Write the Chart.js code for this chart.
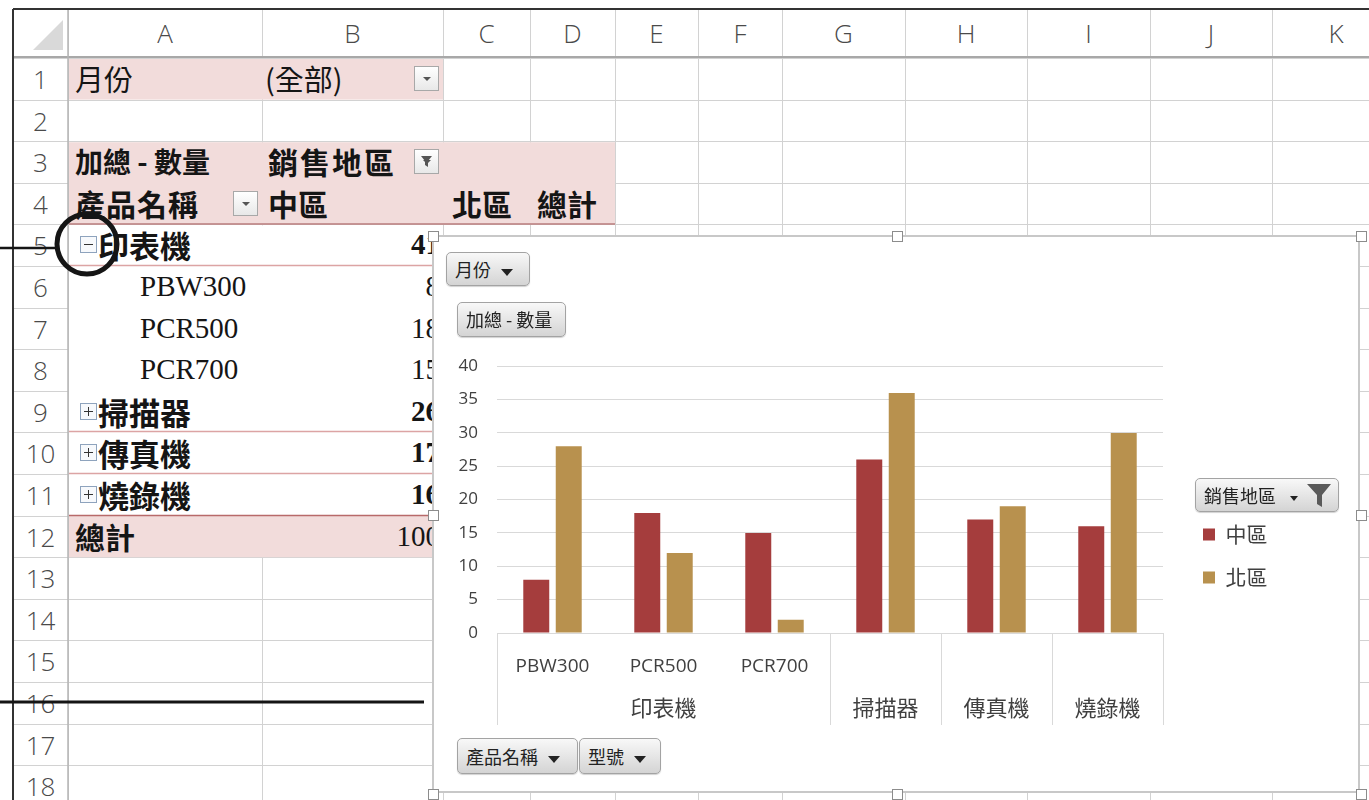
<!DOCTYPE html>
<html lang="zh-Hant">
<head>
<meta charset="utf-8">
<title>樞紐分析圖</title>
<script src="https://cdn.jsdelivr.net/npm/chart.js@4.4.1/dist/chart.umd.min.js"></script>
<style>
  html, body { margin: 0; padding: 0; background: #fff; }
  #sheet { position: relative; width: 1369px; height: 800px; overflow: hidden; font-family: "Noto Sans CJK TC", sans-serif; }
  svg { position: absolute; left: 0; top: 0; }
  .txt { position: absolute; white-space: nowrap; color: #151515; height: 41px; line-height: 41px; }
  .num { text-align: right; }
  .hd { position: absolute; color: #4a4a4a; font-family: "Open Sans", sans-serif; font-weight: 300; font-size: 26px; text-align: center; line-height: 30px; }
  .dd { position: absolute; width: 25px; height: 25px; border: 1px solid #a8a8a8; background: linear-gradient(#fff, #e8e8e8); box-sizing: border-box; }
  .dd::after { content: ""; position: absolute; left: 8px; top: 10px; border-left: 4px solid transparent; border-right: 4px solid transparent; border-top: 4px solid #555; }
  .tg { position: absolute; width: 17px; height: 17px; border: 1px solid #8ea3bd; box-sizing: border-box; background: #f7f9fc; }
  .tg i { position: absolute; left: 3px; top: 7px; width: 9px; height: 1px; background: #333; }
  .tg b { position: absolute; left: 7px; top: 3px; width: 1px; height: 9px; background: #333; }
  .btn { position: absolute; box-sizing: border-box; border: 1px solid #a3a3a3; border-radius: 5px; background: linear-gradient(#f8f8f8, #d4d4d4); font-size: 18px; color: #222; line-height: 32px; padding-left: 8px; white-space: nowrap; box-shadow: 0 1px 1px rgba(0,0,0,.18); }
  .arr { display: inline-block; margin-left: 10px; border-left: 6px solid transparent; border-right: 6px solid transparent; border-top: 7px solid #222; vertical-align: middle; }
  #chartBox { position: absolute; left: 432px; top: 235px; width: 928px; height: 558px; background: #fff; border: 2px solid #c8c8c8; box-sizing: border-box; }
  .hnd { position: absolute; width: 11px; height: 11px; background: #fff; border: 1px solid #8c8c8c; box-sizing: border-box; }
  #plot { position: absolute; left: 440px; top: 337px; width: 915px; height: 400px; }
</style>
</head>
<body>
<div id="sheet">
  <svg id="bg" width="1369" height="800"></svg>
  <div id="cells"></div>
  <div id="chartBox"></div>
  <div id="plot"><canvas id="pivotChart"></canvas></div>
  <div class="btn" style="left:446px;top:252px;width:84px;height:34px;">月份<span class="arr"></span></div>
  <div class="btn" style="left:457px;top:302px;width:109px;height:35px;">加總 - 數量</div>
  <div class="btn" style="left:457px;top:738px;width:121px;height:36px;line-height:34px;">產品名稱<span class="arr"></span></div>
  <div class="btn" style="left:579px;top:738px;width:82px;height:36px;line-height:34px;">型號<span class="arr"></span></div>
  <div class="btn" style="left:1195px;top:478px;width:144px;height:34px;">銷售地區<span class="arr" style="margin-left:14px;border-width:5px 4px 0 4px;"></span>
    <svg width="26" height="26" style="left:110px;top:3px;" viewBox="0 0 26 26"><path d="M1 2 H25 L16 13 V25 L11 22 V13 Z" fill="#5a5a5a"/></svg>
  </div>
  <svg id="ov" width="1369" height="800"></svg>
</div>
<script>
// chart data
const models = ['PBW300', 'PCR500', 'PCR700', '', '', ''];
const products = ['印表機', '印表機', '印表機', '掃描器', '傳真機', '燒錄機'];
const regionNames = ['中區', '北區'];
const central = [8, 18, 15, 26, 17, 16];
const north = [28, 12, 2, 36, 19, 30];
const yMin = 0, yMax = 40, yStep = 5;

// group consecutive products
const groups = [];
products.forEach(function (p, i) {
  const g = groups[groups.length - 1];
  if (g && g.name === p) g.idx.push(i);
  else groups.push({ name: p, idx: [i] });
});

// ---- worksheet ----
const colEdges = [68, 262, 443, 530, 615, 698, 782, 905, 1027, 1150, 1272, 1400];
const colNames = ['A', 'B', 'C', 'D', 'E', 'F', 'G', 'H', 'I', 'J', 'K'];
const rowH = 41.6;
function rowTop(r) { return 58 + (r - 1) * rowH; }

let bg = '';
for (let r = 1; r <= 19; r++) {
  const y = Math.round(rowTop(r)) + 0.5;
  bg += '<line x1="13" y1="' + y + '" x2="1369" y2="' + y + '" stroke="#d2d2d2"/>';
}
colEdges.forEach(function (x) {
  bg += '<line x1="' + (x + 0.5) + '" y1="9" x2="' + (x + 0.5) + '" y2="800" stroke="#d2d2d2"/>';
});
bg += '<line x1="13" y1="57" x2="1369" y2="57" stroke="#a8a8a8" stroke-width="2"/>';
bg += '<line x1="68" y1="9" x2="68" y2="800" stroke="#b4b4b4" stroke-width="1.5"/>';
bg += '<polygon points="63,20 63,50 33,50" fill="#d9d9d9"/>';
// pivot fills
const pink = '#F2DCDB';
bg += '<rect x="69" y="' + (rowTop(1) + 1) + '" width="374" height="' + (rowH - 1) + '" fill="' + pink + '"/>';
bg += '<rect x="69" y="' + (rowTop(3) + 1) + '" width="546" height="' + (2 * rowH - 1) + '" fill="' + pink + '"/>';
bg += '<rect x="69" y="' + (rowTop(5) + 1) + '" width="374" height="' + (7 * rowH) + '" fill="#fff"/>';
bg += '<rect x="69" y="' + (rowTop(12)) + '" width="374" height="' + rowH + '" fill="' + pink + '"/>';
bg += '<line x1="69" y1="' + (rowTop(5) - 0.5) + '" x2="615" y2="' + (rowTop(5) - 0.5) + '" stroke="#b97c7c" stroke-width="1.5"/>';
// frame
bg += '<line x1="13" y1="9" x2="1369" y2="9" stroke="#333" stroke-width="2"/>';
bg += '<line x1="13" y1="9" x2="13" y2="800" stroke="#333" stroke-width="2"/>';

let cells = '';
colNames.forEach(function (n, i) {
  cells += '<div class="hd" style="left:' + colEdges[i] + 'px;width:' + (colEdges[i + 1] - colEdges[i]) + 'px;top:18px;">' + n + '</div>';
});
for (let r = 1; r <= 18; r++) {
  cells += '<div class="hd" style="left:13px;width:55px;top:' + (rowTop(r) + 6) + 'px;">' + r + '</div>';
}
function txt(r, x, s, style) {
  cells += '<div class="txt" style="left:' + x + 'px;top:' + rowTop(r) + 'px;' + style + '">' + s + '</div>';
}
function num(r, v, style) {
  cells += '<div class="txt num" style="left:262px;width:178px;top:' + rowTop(r) + 'px;font-family:\'Liberation Serif\',serif;font-size:29px;' + style + '">' + v + '</div>';
}
function dd(r, x) { cells += '<div class="dd" style="left:' + x + 'px;top:' + (rowTop(r) + 8) + 'px;"></div>'; }
function tg(r, open) {
  cells += '<div class="tg" style="left:80px;top:' + (rowTop(r) + 12) + 'px;"><i></i>' + (open ? '' : '<b></b>') + '</div>';
}
const cjk = 'font-size:29px;';
const cjkB = 'font-size:30px;font-weight:700;';
txt(1, 75, '月份', cjk);
txt(1, 265, '(全部)', cjk);
dd(1, 414);
txt(3, 75, '加總 - 數量', 'font-size:28px;font-weight:700;');
txt(3, 268, '銷售地區', cjkB + 'letter-spacing:2px;');
cells += '<div class="dd" style="left:414px;top:' + (rowTop(3) + 8) + 'px;"><svg width="23" height="23" viewBox="0 0 23 23"><path d="M6 6 H17 L13 11 V17 L10 15 V11 Z" fill="#555"/></svg></div>';
txt(4, 75, '產品名稱', cjkB + 'letter-spacing:1px;');
dd(4, 233);
txt(4, 268, regionNames[0], cjkB);
txt(4, 452, regionNames[1], cjkB);
txt(4, 537, '總計', cjkB);

let r = 5;
groups.forEach(function (g, gi) {
  const open = g.idx.some(function (i) { return models[i]; });
  const tot = g.idx.reduce(function (s, i) { return s + central[i]; }, 0);
  tg(r, open);
  txt(r, 98, g.name, cjkB + 'font-size:31px;');
  num(r, tot, 'font-weight:700;');
  const y = Math.round(rowTop(r + 1)) - 0.5;
  const last = gi === groups.length - 1;
  bg += '<line x1="69" y1="' + y + '" x2="443" y2="' + y + '" stroke="' + (last ? '#b86a6a' : '#dca4a4') + '" stroke-width="1.5"/>';
  r++;
  if (open) {
    g.idx.forEach(function (i) {
      txt(r, 140, models[i], "font-family:'Liberation Serif',serif;font-size:29px;");
      num(r, central[i], '');
      r++;
    });
  }
});
txt(r, 75, '總計', cjkB);
num(r, central.reduce(function (s, v) { return s + v; }, 0), '');

document.getElementById('bg').innerHTML = bg;
document.getElementById('cells').innerHTML = cells;

// chart frame handles
let hs = '';
[[0, 0], [0.5, 0], [1, 0], [0, 0.5], [1, 0.5], [0, 1], [0.5, 1], [1, 1]].forEach(function (p) {
  hs += '<div class="hnd" style="left:' + (p[0] * 928 - 6) + 'px;top:' + (p[1] * 558 - 6) + 'px;"></div>';
});
document.getElementById('chartBox').innerHTML = hs;

// callout marks
document.getElementById('ov').innerHTML =
  '<circle cx="87" cy="244" r="30" fill="none" stroke="#151515" stroke-width="5"/>' +
  '<line x1="0" y1="248" x2="57" y2="248" stroke="#151515" stroke-width="2.5"/>' +
  '<line x1="0" y1="702" x2="424" y2="702" stroke="#151515" stroke-width="3"/>';

// ---- chart ----
const groupAxis = {
  id: 'groupAxis',
  afterDraw: function (chart) {
    const x = chart.scales.x, ctx = chart.ctx, area = chart.chartArea;
    const half = (x.getPixelForValue(1) - x.getPixelForValue(0)) / 2;
    ctx.save();
    ctx.strokeStyle = '#d9d9d9';
    ctx.lineWidth = 1;
    ctx.fillStyle = '#404040';
    ctx.font = '22px "Noto Sans CJK TC", sans-serif';
    ctx.textAlign = 'center';
    ctx.textBaseline = 'middle';
    ctx.beginPath();
    let px = Math.round(x.getPixelForValue(0) - half) + 0.5;
    ctx.moveTo(px, area.bottom);
    ctx.lineTo(px, area.bottom + 92);
    groups.forEach(function (g) {
      const left = x.getPixelForValue(g.idx[0]) - half;
      const right = x.getPixelForValue(g.idx[g.idx.length - 1]) + half;
      ctx.fillText(g.name, (left + right) / 2, area.bottom + 75);
      px = Math.round(right) + 0.5;
      ctx.moveTo(px, area.bottom);
      ctx.lineTo(px, area.bottom + 92);
    });
    ctx.stroke();
    ctx.restore();
  }
};

const legendShift = {
  id: 'legendShift',
  afterLayout: function (chart) {
    const lg = chart.legend;
    lg.left += 18; lg.right += 18;
    lg.top += 19; lg.bottom += 19;
  }
};

new Chart(document.getElementById('pivotChart'), {
  type: 'bar',
  data: {
    labels: models,
    datasets: [
      { label: regionNames[0], data: central, backgroundColor: '#A53D3D' },
      { label: regionNames[1], data: north, backgroundColor: '#B8914E' }
    ]
  },
  options: {
    responsive: true,
    maintainAspectRatio: false,
    animation: false,
    datasets: { bar: { categoryPercentage: 0.585, barPercentage: 0.8 } },
    layout: { padding: { top: 12, bottom: 12, left: 0, right: 95.5 } },
    scales: {
      x: {
        grid: { display: false },
        border: { display: false },
        ticks: { color: '#404040', padding: 14, font: { family: '"Open Sans", sans-serif', size: 19 } },
        afterFit: function (s) { s.height = 92; }
      },
      y: {
        min: yMin,
        max: yMax,
        grid: { color: '#d9d9d9', drawTicks: false },
        border: { display: false },
        ticks: { stepSize: yStep, color: '#404040', padding: 19, font: { family: '"Open Sans", sans-serif', size: 17 } },
        afterFit: function (s) { s.width = 57; }
      }
    },
    plugins: {
      tooltip: { enabled: false },
      legend: {
        position: 'right',
        labels: {
          boxWidth: 12,
          boxHeight: 12,
          padding: 22,
          color: '#404040',
          font: { family: '"Noto Sans CJK TC", sans-serif', size: 21 }
        }
      }
    }
  },
  plugins: [groupAxis, legendShift]
});
</script>
</body>
</html>
